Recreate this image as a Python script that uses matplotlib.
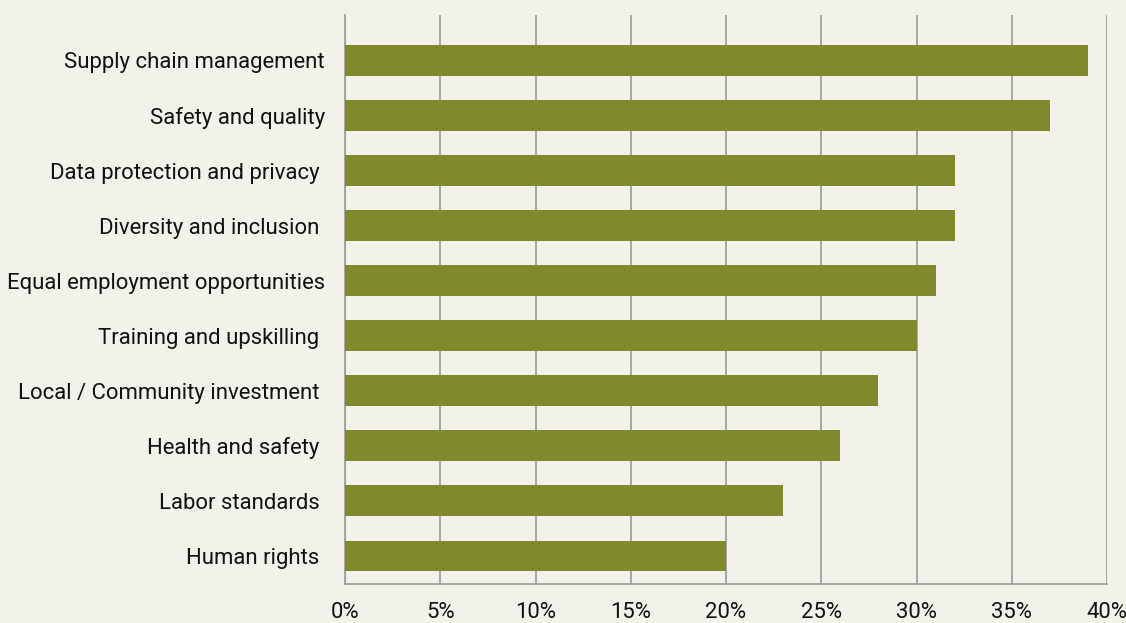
import matplotlib.pyplot as plt
from matplotlib.ticker import PercentFormatter

categories = [
    'Supply chain management',
    'Safety and quality',
    'Data protection and privacy ',
    'Diversity and inclusion ',
    'Equal employment opportunities',
    'Training and upskilling ',
    'Local / Community investment ',
    'Health and safety ',
    'Labor standards ',
    'Human rights ',
]
shares = [39, 37, 32, 32, 31, 30, 28, 26, 23, 20]

bg = '#f3f2ea'
bar_color = '#7f8a2d'
grid_color = '#9a9a9a'

plt.rcParams['font.family'] = ['Roboto', 'DejaVu Sans']

fig = plt.figure(figsize=(11.26, 6.23), dpi=100, facecolor=bg)
ax = fig.add_axes([345 / 1126, 1 - 584 / 623, (1107 - 345) / 1126, (584 - 15) / 623])
ax.set_facecolor(bg)

ypos = list(range(len(categories)))
ax.barh(ypos, shares, height=0.56, color=bar_color, zorder=3)

ax.set_xlim(0, 40)
ax.set_ylim(9.51, -0.826)
ax.set_xticks(range(0, 41, 5))
ax.xaxis.set_major_formatter(PercentFormatter(decimals=0))
ax.set_yticks(ypos)
ax.set_yticklabels(categories)

ax.grid(axis='x', color=grid_color, linewidth=1.2, zorder=0)
for side in ['top', 'right']:
    ax.spines[side].set_visible(False)
for side in ['left', 'bottom']:
    ax.spines[side].set_color(grid_color)
    ax.spines[side].set_linewidth(1.2)

ax.tick_params(axis='y', length=0, pad=14.5, labelsize=15.9, labelcolor='#111111')
ax.tick_params(axis='x', length=0, pad=13, labelsize=15.9, labelcolor='#111111')

fig.savefig('out.png', dpi=100, facecolor=bg)
